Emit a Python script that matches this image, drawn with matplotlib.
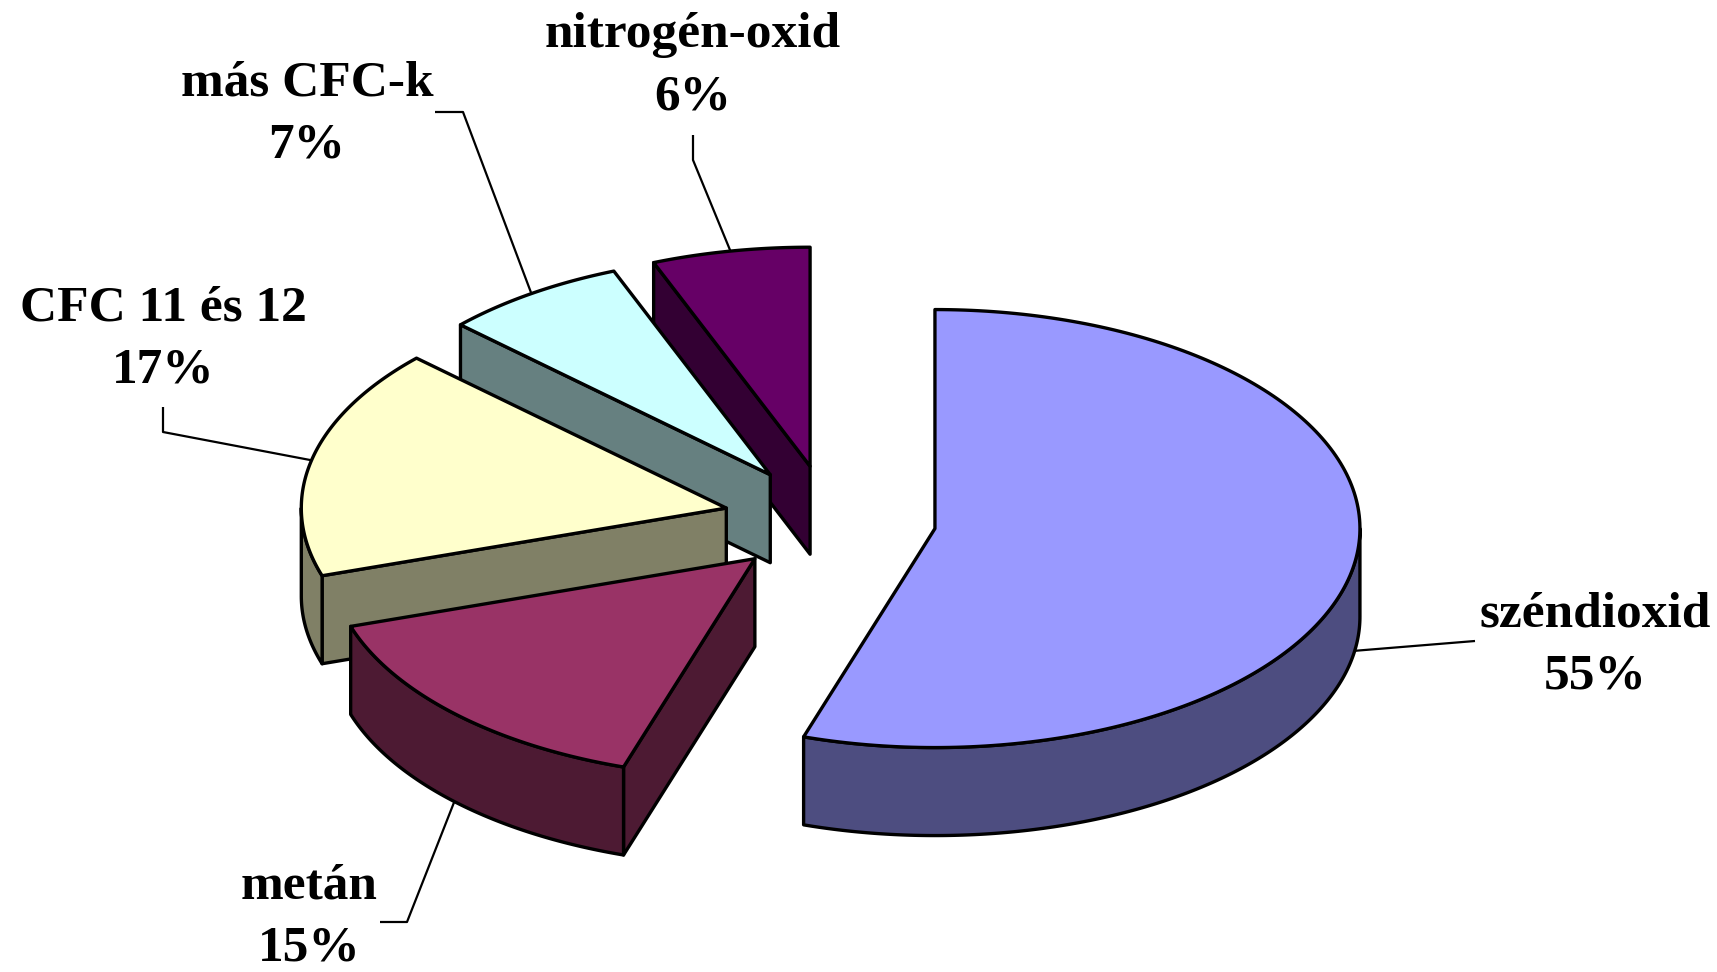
import numpy as np
import matplotlib
matplotlib.use("Agg")
import matplotlib.pyplot as plt
from matplotlib.patches import Polygon

# data
labels = ["széndioxid", "metán", "CFC 11 és 12", "más CFC-k", "nitrogén-oxid"]
values = [55, 15, 17, 7, 6]
top_colors = ["#9999FF", "#993366", "#FFFFCC", "#CCFFFF", "#660066"]
side_colors = ["#4D4D80", "#4D1A33", "#808066", "#668080", "#330033"]

# layout in image pixels (y grows downward)
W, H = 1717, 972
CX, CY = 830, 520
RX, RY = 425, 219
DEPTH = 88
EXPLODE = 0.25

# label: center x and first baseline; leader: bend points after the slice anchor
label_pos = [(1595, 626), (309, 898), (163, 320), (307, 95), (693, 47)]
leader_bends = [
    [(1475, 641)],
    [(407, 922), (380, 922)],
    [(163, 432), (163, 407)],
    [(463, 112), (435, 112)],
    [(693, 160), (693, 135)],
]


def ell(cx, cy, deg):
    t = np.radians(deg)
    return cx + RX * np.cos(t), cy - RY * np.sin(t)


def arc(cx, cy, a0, a1, n=200, dy=0):
    ts = np.linspace(a0, a1, n)
    xs, ys = ell(cx, cy, ts)
    return np.column_stack([xs, ys + dy])


fig = plt.figure(figsize=(W / 100, H / 100), dpi=100)
ax = fig.add_axes([0, 0, 1, 1])
ax.set_xlim(0, W)
ax.set_ylim(H, 0)
ax.axis("off")

total = float(sum(values))
start = 90.0
slices = []
for i, v in enumerate(values):
    a_hi = start
    a_lo = start - 360.0 * v / total
    start = a_lo
    mid = 0.5 * (a_lo + a_hi)
    cx, cy = ell(CX, CY, mid)
    cx = CX + EXPLODE * (cx - CX)
    cy = CY + EXPLODE * (cy - CY)
    slices.append((i, a_lo, a_hi, mid, cx, cy))

edge = dict(edgecolor="black", linewidth=2.4, joinstyle="round")

# back to front
for rank, (i, a_lo, a_hi, mid, cx, cy) in enumerate(sorted(slices, key=lambda s: s[5])):
    z = 10 + rank * 3
    # radial faces
    for a, normal in ((a_lo, a_lo - 90), (a_hi, a_hi + 90)):
        if np.sin(np.radians(normal)) < -1e-9:
            ox, oy = ell(cx, cy, a)
            face = [(cx, cy), (ox, oy), (ox, oy + DEPTH), (cx, cy + DEPTH)]
            ax.add_patch(Polygon(face, closed=True, facecolor=side_colors[i], zorder=z, **edge))
    # outer wall, front half only
    lo, hi = max(a_lo, -180.0), min(a_hi, 0.0)
    if hi > lo:
        top = arc(cx, cy, lo, hi)
        bot = arc(cx, cy, hi, lo, dy=DEPTH)
        ax.add_patch(Polygon(np.vstack([top, bot]), closed=True,
                             facecolor=side_colors[i], zorder=z + 1, **edge))
    # top face
    pts = np.vstack([[cx, cy], arc(cx, cy, a_lo, a_hi)])
    ax.add_patch(Polygon(pts, closed=True, facecolor=top_colors[i], zorder=z + 2, **edge))

# labels and leader lines
for i, a_lo, a_hi, mid, cx, cy in slices:
    ax_, ay_ = ell(cx, cy, mid)
    if np.sin(np.radians(mid)) < 0:
        ay_ += DEPTH
    path = [(ax_, ay_)] + leader_bends[i]
    xs, ys = zip(*path)
    ax.plot(xs, ys, color="black", linewidth=1.6, zorder=50, solid_capstyle="butt")

    lx, ly = label_pos[i]
    pct = f"{round(values[i] / total * 100):d}%"
    font = dict(ha="center", va="baseline", fontsize=37, fontweight="bold",
                family="Liberation Serif", zorder=60)
    ax.text(lx, ly, labels[i], **font)
    ax.text(lx, ly + 62, pct, **font)

fig.savefig("out.png", dpi=100)
